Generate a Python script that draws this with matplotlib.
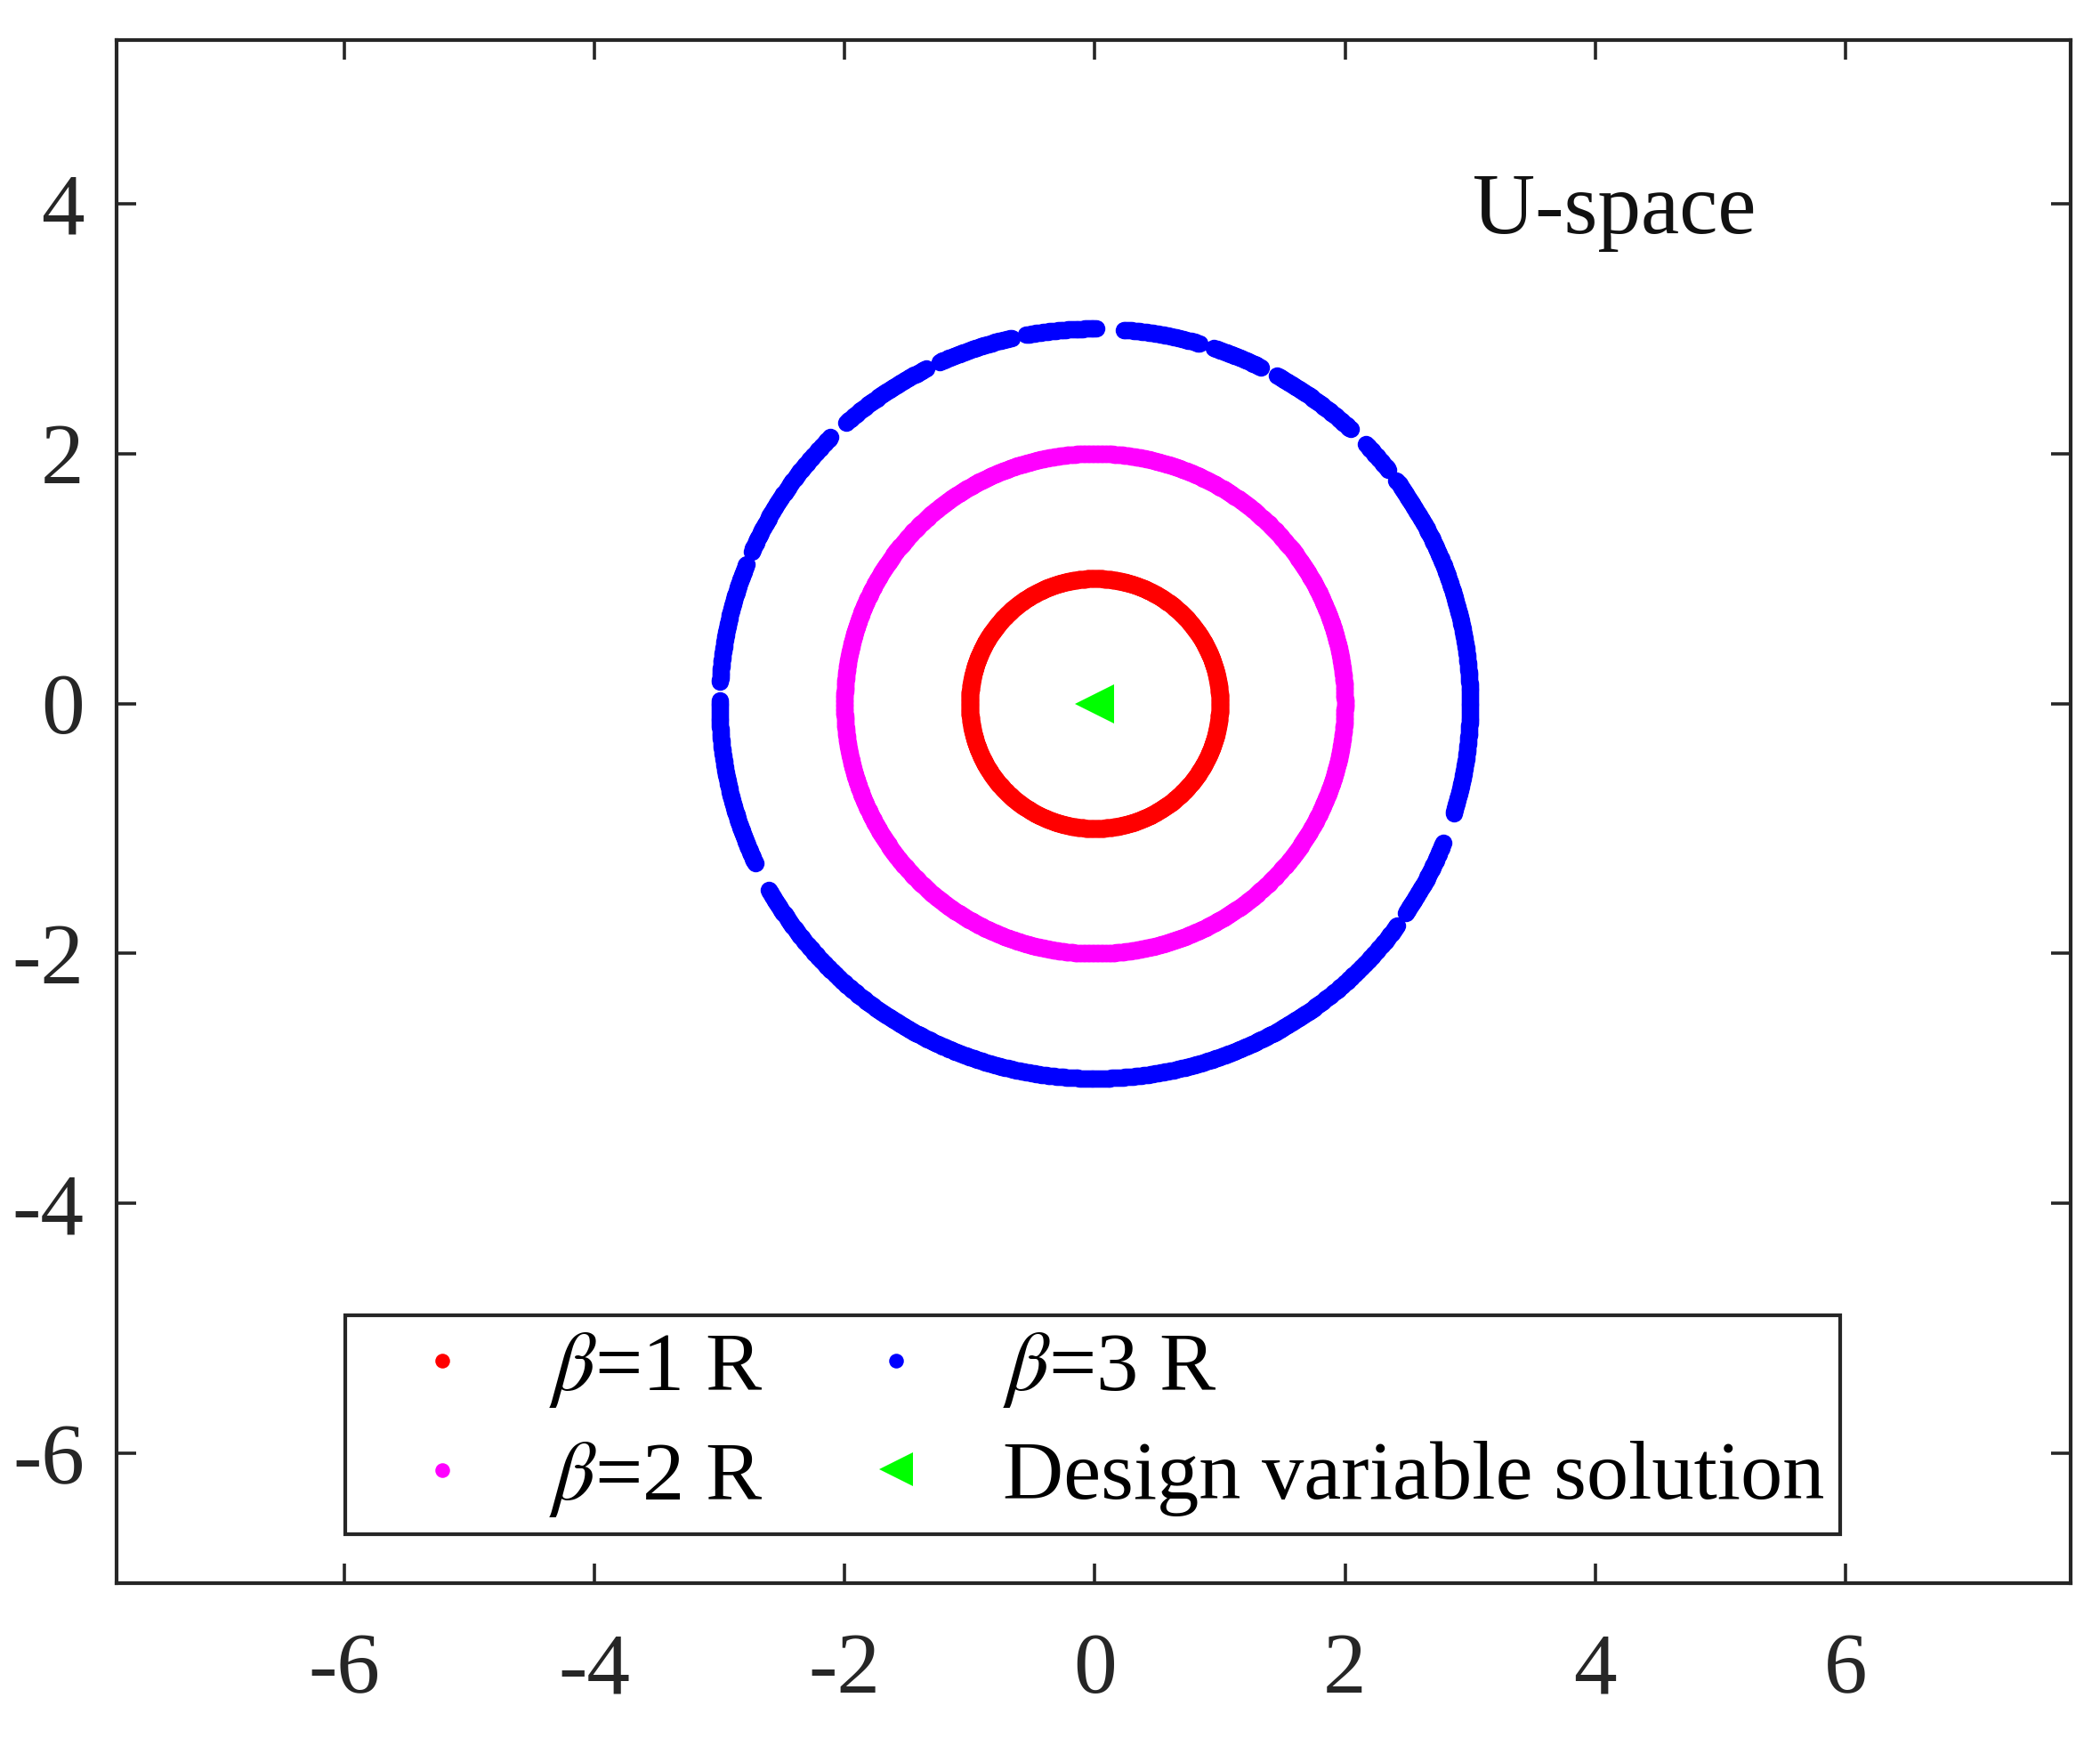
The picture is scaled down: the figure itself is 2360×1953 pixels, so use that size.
import numpy as np
import matplotlib.pyplot as plt

plt.rcParams['font.family'] = ['Liberation Serif', 'DejaVu Serif']
plt.rcParams['mathtext.fontset'] = 'stix'
plt.rcParams['axes.unicode_minus'] = False

# reliability index rings in U-space
betas = [1, 2, 3]
ring_colors = ['#ff0000', '#ff00ff', '#0000ff']
ring_labels = [r'$\beta$=1 R', r'$\beta$=2 R', r'$\beta$=3 R']

# gaps seen on the beta=3 ring: (centre angle in deg, width in deg)
blue_gaps = [(87.7, 4.0), (101.7, 2.0), (115.5, 2.0), (133.0, 3.0), (157.0, 1.8),
             (178.0, 2.6), (207.4, 4.4), (72.7, 2.0), (62.4, 2.4), (45.3, 3.0),
             (37.5, 1.8), (-19.4, 4.8), (-35.0, 2.0)]

design_u = [0.0]
design_v = [0.0]

xticks = [-6, -4, -2, 0, 2, 4, 6]
yticks = [-6, -4, -2, 0, 2, 4]

fig = plt.figure(figsize=(11.8, 9.765), dpi=200)
ax = fig.add_axes([0.0555, 0.089, 0.9305, 0.888])

ang = np.linspace(0, 360, 1400, endpoint=False)
for b, c, lab in zip(betas, ring_colors, ring_labels):
    a = ang.copy()
    if b == 3:
        keep = np.ones_like(a, dtype=bool)
        for g, w in blue_gaps:
            d = (a - g + 180) % 360 - 180
            keep &= np.abs(d) > w / 2
        a = a[keep]
    r = np.deg2rad(a)
    ax.plot(b * np.cos(r), b * np.sin(r), 'o', color=c, ms=7.0, mew=0, label=lab)

ax.plot(design_u, design_v, '<', color='#00ff00', ms=16, mew=0,
        label='Design variable solution', zorder=5)

ax.set_xlim(-7.82, 7.80)
ax.set_ylim(-7.04, 5.31)
ax.set_xticks(xticks)
ax.set_yticks(yticks)
ax.tick_params(direction='in', length=8, width=1.3, top=True, right=True,
               labelsize=35, colors='#262626')
ax.tick_params(axis='x', pad=20)
ax.tick_params(axis='y', pad=13)
for s in ax.spines.values():
    s.set_linewidth(1.5)
    s.set_color('#262626')

ax.text(3.02, 3.93, 'U-space', fontsize=35, color='#111111', va='center', ha='left')

handles, labels = ax.get_legend_handles_labels()
leg = ax.legend(handles, labels,
                ncol=2, loc='lower left', bbox_to_anchor=(0.117, 0.032),
                fontsize=34, frameon=True, fancybox=False, framealpha=1,
                edgecolor='#262626', borderpad=0.18, handlelength=1.95,
                handletextpad=0.3, columnspacing=0.6, labelspacing=0.36,
                borderaxespad=0, markerscale=0.85)
leg.get_frame().set_linewidth(1.5)

fig.savefig('out.png', dpi=200)
